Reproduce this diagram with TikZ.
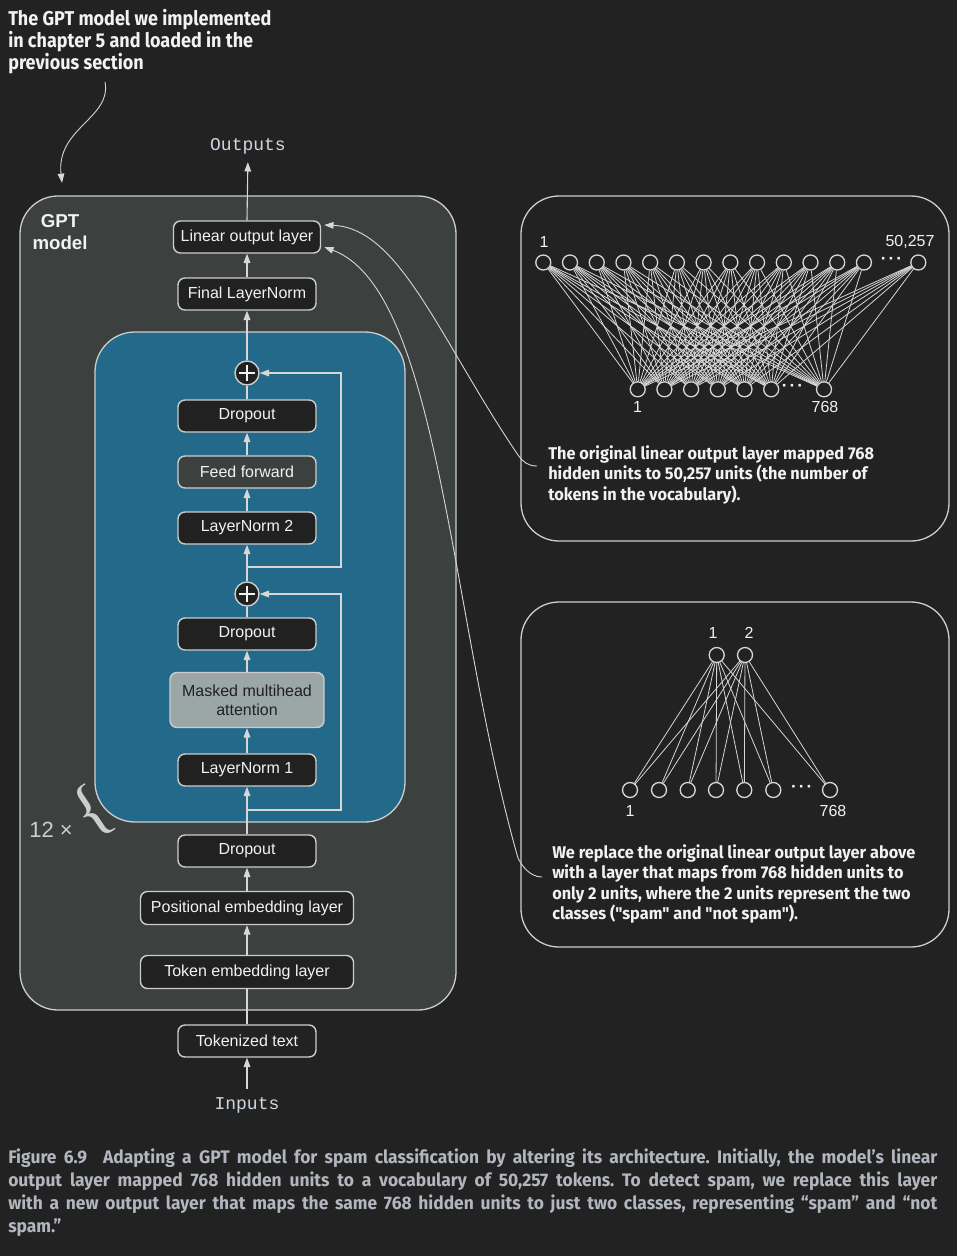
\documentclass[tikz,border=0pt]{standalone}
\usepackage{fontspec}
\setmainfont{Liberation Sans}
\setmonofont{Liberation Mono}
\newfontfamily\annfont[FakeStretch=0.9]{Fira Sans}
\newfontfamily\notefont[FakeStretch=0.96]{Fira Sans}
\newfontfamily\capfont[FakeStretch=0.96]{Fira Sans}
\newfontfamily\seriffont{Liberation Serif}
\usetikzlibrary{arrows.meta,calc}
\newdimen\pxu \pxu=0.75pt
\definecolor{bgc}{RGB}{34,34,34}
\definecolor{panelc}{RGB}{60,65,64}
\definecolor{bluec}{RGB}{35,105,137}
\definecolor{boxc}{RGB}{33,33,33}
\definecolor{edgec}{RGB}{205,205,205}
\definecolor{mhac}{RGB}{155,167,167}
\definecolor{txtc}{RGB}{242,242,242}
\definecolor{monoc}{RGB}{205,215,225}
\definecolor{capc}{RGB}{178,182,190}
\definecolor{linec}{RGB}{215,215,215}
\frenchspacing
\begin{document}
\begin{tikzpicture}[x=0.75pt,y=-0.75pt,
  blk/.style={draw=edgec, line width=1.4\pxu, fill=boxc, rounded corners=7\pxu, text=txtc,
    font=\fontsize{12}{14}\selectfont, minimum width=138\pxu, minimum height=32\pxu, inner sep=0pt},
  ffblk/.style={blk, fill=panelc},
  mhablk/.style={blk, fill=mhac, text=boxc, minimum width=154\pxu, minimum height=55\pxu, align=center},
  plusc/.style={circle, draw=edgec, line width=1.4\pxu, fill=boxc, minimum size=24\pxu, inner sep=0pt,
    path picture={\draw[txtc, line width=1.4\pxu] ($(path picture bounding box.center)+(-8,0)$) -- ($(path picture bounding box.center)+(8,0)$);
                  \draw[txtc, line width=1.4\pxu] ($(path picture bounding box.center)+(0,-8)$) -- ($(path picture bounding box.center)+(0,8)$);}},
  ln/.style={draw=linec, line width=1.1\pxu},
  arr/.style={ln, -{Triangle[length=7pt,width=5pt]}},
  neur/.style={circle, draw=linec, line width=1.3\pxu, fill=bgc, minimum size=15\pxu, inner sep=0pt},
  edge/.style={draw=linec, line width=0.8\pxu},
  lbl/.style={text=txtc, font=\fontsize{12}{14}\selectfont, inner sep=0pt},
  dots/.style={text=txtc, font=\bfseries\fontsize{13}{14}\selectfont, inner sep=0pt},
  mono/.style={text=monoc, font=\ttfamily\fontsize{13.5}{15}\selectfont, inner sep=0pt},
  note/.style={text=txtc, font=\notefont\bfseries\fontsize{12.75}{15.4}\selectfont, align=left, inner sep=0pt, anchor=north west},
  panel/.style={draw=edgec, line width=1.3\pxu, rounded corners=38\pxu}
]
\useasboundingbox[fill=bgc] (0,0) rectangle (957,1256);

% ---------- annotation top-left ----------
\node[note, font=\annfont\bfseries\fontsize{15}{16.5}\selectfont] (ann) at (8,9)
  {The GPT model we implemented\\in chapter 5 and loaded in the\\previous section};
\coordinate (annA) at (105,82);
\coordinate (annB) at (62,183);
\draw[arr, line width=0.9\pxu] (annA) .. controls (112,118) and (56,128) .. (annB);

% ---------- GPT panel ----------
\draw[panel, fill=panelc] (20,196) rectangle (456,1010);
\node[text=txtc, font=\bfseries\fontsize{14}{17}\selectfont, align=center, inner sep=0pt] (gptl) at (60,232) {GPT\\model};

% blue transformer block
\draw[panel, fill=bluec, rounded corners=40\pxu] (95,332) rectangle (405,822);

% ---------- boxes ----------
\node[blk, minimum width=147\pxu] (lin) at (247,237) {Linear output layer};
\node[blk] (fln) at (247,294) {Final LayerNorm};
\node[plusc] (plus1) at (247,373) {};
\node[blk] (drop1) at (247,416) {Dropout};
\node[ffblk] (ff) at (247,472) {Feed forward};
\node[blk] (ln2) at (247,528) {LayerNorm 2};
\node[plusc] (plus2) at (247,594) {};
\node[blk] (drop2) at (247,634) {Dropout};
\node[mhablk] (mha) at (247,700) {Masked multihead\\attention};
\node[blk] (ln1) at (247,770) {LayerNorm 1};
\node[blk] (drop0) at (247,851) {Dropout};
\node[blk, minimum width=213\pxu, minimum height=33\pxu] (pos) at (247,908) {Positional embedding layer};
\node[blk, minimum width=213\pxu, minimum height=33\pxu] (tok) at (247,972) {Token embedding layer};
\node[blk, fill=bgc] (tokt) at (247,1041) {Tokenized text};

\node[mono] (outputs) at (248,146) {Outputs};
\node[mono] (inputs) at (247,1105) {Inputs};

% ---------- main spine ----------
\draw[arr] (inputs.north) ++(0,-8) -- (tokt.south);
\draw[ln] (tokt.north) -- (tok.south);
\draw[arr] (tok.north) -- (pos.south);
\draw[arr] (pos.north) -- (drop0.south);
\draw[arr] (drop0.north) -- (ln1.south);
\draw[arr] (ln1.north) -- (mha.south);
\draw[arr] (mha.north) -- (drop2.south);
\draw[ln] (drop2.north) -- (plus2.south);
\draw[arr] (plus2.north) -- (ln2.south);
\draw[arr] (ln2.north) -- (ff.south);
\draw[arr] (ff.north) -- (drop1.south);
\draw[ln] (drop1.north) -- (plus1.south);
\draw[arr] (plus1.north) -- (fln.south);
\draw[arr] (fln.north) -- (lin.south);
\draw[arr, shorten >=8\pxu] (lin.north) -- (outputs.south);

% residual connections
\coordinate (r1) at (247,567);
\coordinate (r1c) at (341,567);
\draw[arr] (r1) -- (r1c) |- (plus1.east);
\coordinate (r2) at (247,810);
\coordinate (r2c) at (341,810);
\draw[arr] (r2) -- (r2c) |- (plus2.east);

% 12x brace
\node[text=edgec, font=\fontsize{16.5}{17}\selectfont, inner sep=0pt] (twelve) at (51,830) {12 ×};
\node[text=edgec, font=\seriffont\fontsize{50}{50}\selectfont, inner sep=0pt, rotate=34] (brace) at (92,812) {\{};

% ---------- right panel 1 ----------
\draw[panel, fill=bgc] (521,196) rectangle (949,541);
\foreach \i in {0,...,12} {
  \node[neur] (t\i) at ({543.3+26.72*\i},262.5) {};
}
\node[neur] (t13) at (918.3,262.5) {};
\foreach \j in {0,...,5} {
  \node[neur] (b\j) at ({637.7+26.7*\j},389.3) {};
}
\node[neur] (b6) at (824,389.3) {};
\foreach \i in {0,...,13} {
  \foreach \j in {0,...,6} {
    \draw[edge] (t\i) -- (b\j);
  }
}
\node[dots] (dtop) at (891.5,261) {·\hspace{1.5pt}·\hspace{1.5pt}·};
\node[dots] (dbot) at (792.5,388) {·\hspace{1.5pt}·\hspace{1.5pt}·};
\node[lbl] (l1a) at (544,242) {1};
\node[lbl] (l1b) at (910,242) {50,257};
\node[lbl] (l1c) at (637.5,407) {1};
\node[lbl] (l1d) at (825,407) {768};
\node[note] (txt1) at (548,445)
  {The original linear output layer mapped 768\\hidden units to 50,257 units (the number of\\tokens in the vocabulary).};

% ---------- right panel 2 ----------
\draw[panel, fill=bgc] (521,602) rectangle (949,947);
\node[neur] (u1) at (716.7,655) {};
\node[neur] (u2) at (745,655) {};
\foreach \j/\x in {0/630,1/659,2/687.7,3/716,4/744.3,5/773.3,6/830} {
  \node[neur] (v\j) at (\x,790) {};
}
\foreach \j in {0,...,6} {
  \draw[edge] (u1) -- (v\j);
  \draw[edge] (u2) -- (v\j);
}
\node[dots] (dv) at (801.7,789) {·\hspace{1.5pt}·\hspace{1.5pt}·};
\node[lbl] (l2a) at (713,633) {1};
\node[lbl] (l2b) at (749,633) {2};
\node[lbl] (l2c) at (630,811) {1};
\node[lbl] (l2d) at (833,811) {768};
\node[note] (txt2) at (552,844)
  {We replace the original linear output layer above\\with a layer that maps from 768 hidden units to\\only 2 units, where the 2 units represent the two\\classes ("spam" and "not spam").};

% ---------- callout curves ----------
\coordinate (c1) at (537,466);
\coordinate (c2) at (542,877);
\draw[arr, line width=0.9\pxu] (c1) .. controls (528,466) and (523,462) .. (518,455)
   .. controls (440,340) and (400,228) .. ($(lin.east)+(3,-12)$);
\draw[arr, line width=0.9\pxu] (c2) .. controls (530,877) and (522,866) .. (518,858)
   .. controls (450,620) and (440,290) .. ($(lin.east)+(3,10)$);

% ---------- caption ----------
\node[anchor=north west, inner sep=0pt, text=capc, font=\capfont\bfseries\fontsize{13.6}{17.25}\selectfont, align=left] (cap) at (8,1149)
 {\hbox to 929\pxu{Figure 6.9\hspace{16\pxu}Adapting a GPT model for spam classification by altering its architecture. Initially, the model’s linear}\\
  \hbox to 929\pxu{output layer mapped 768 hidden units to a vocabulary of 50,257 tokens. To detect spam, we replace this layer}\\
  \hbox to 929\pxu{with a new output layer that maps the same 768 hidden units to just two classes, representing “spam” and “not}\\
  spam.”};
\end{tikzpicture}
\end{document}
